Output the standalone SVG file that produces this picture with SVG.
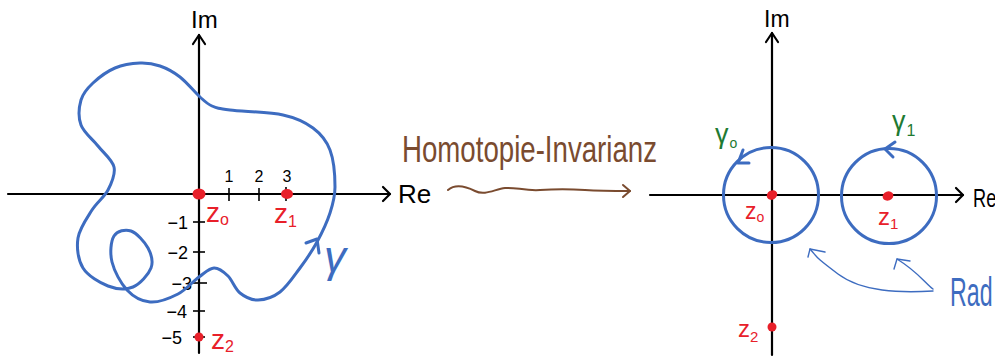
<svg xmlns="http://www.w3.org/2000/svg" width="995" height="358" viewBox="0 0 995 358">
<style>
.ax{stroke:#000;stroke-width:2.2;fill:none;stroke-linecap:round;stroke-linejoin:round}
.tk{stroke:#000;stroke-width:1.6;fill:none}
.bl{stroke:#3d6cc0;stroke-width:3;fill:none;stroke-linecap:round;stroke-linejoin:round}
.bt{stroke:#3d6cc0;stroke-width:1.4;fill:none;stroke-linecap:round;stroke-linejoin:round}
.br{stroke:#7a4b2f;stroke-width:2;fill:none;stroke-linecap:round;stroke-linejoin:round}
.pt{fill:#e8202a}
text{font-family:"Liberation Sans","DejaVu Sans",sans-serif}
.k{fill:#000}
.r{fill:#e8202a}
.g{fill:#1e7a32}
.b{fill:#3d6cc0}
.n{fill:#7a4b2f}
</style>
<rect width="995" height="358" fill="#fff"/>

<g id="left-plot">
  <g id="left-axes">
    <line class="ax" x1="199" y1="353" x2="199" y2="35"/>
    <path class="ax" d="M193,44 L199,35 L205,44"/>
    <line class="ax" x1="8" y1="194" x2="390" y2="194"/>
    <path class="ax" d="M383,187 L390,194 L383,201"/>
    <text class="k" x="191" y="28" font-size="24">Im</text>
    <text class="k" x="398" y="203" font-size="26">Re</text>
  </g>
  <g id="left-ticks">
    <line class="tk" x1="229" y1="188" x2="229" y2="201"/>
    <line class="tk" x1="259" y1="188" x2="259" y2="201"/>
    <line class="tk" x1="286" y1="187" x2="286" y2="201"/>
    <line class="tk" x1="193" y1="222" x2="205" y2="222"/>
    <line class="tk" x1="193" y1="252" x2="205" y2="252"/>
    <line class="tk" x1="192" y1="283" x2="207" y2="283"/>
    <line class="tk" x1="193" y1="311" x2="205" y2="311"/>
    <line class="tk" x1="193" y1="337" x2="205" y2="337"/>
    <text class="k" x="229" y="182" font-size="16" text-anchor="middle">1</text>
    <text class="k" x="259" y="182" font-size="16" text-anchor="middle">2</text>
    <text class="k" x="287" y="182" font-size="16" text-anchor="middle">3</text>
    <text class="k" x="188" y="229" font-size="18" text-anchor="end">−1</text>
    <text class="k" x="188" y="259" font-size="18" text-anchor="end">−2</text>
    <text class="k" x="192" y="290" font-size="18" text-anchor="end">−3</text>
    <text class="k" x="187" y="318" font-size="18" text-anchor="end">−4</text>
    <text class="k" x="182" y="344" font-size="18" text-anchor="end">−5</text>
  </g>
  <g id="gamma-curve">
    <path class="bl" d="M140,63 C132.5,63.3 122.8,64.7 115,68 S98.7,77.7 93,83 S83,93 81,100 S78.2,117.3 81,125 S92.5,139 98,146 S112.3,159.7 114,167 S111.7,182.8 108,190 S97,202 92,210 S79.5,228.3 78,238 S78,260 83,268 S99.7,282.8 108,286 S125.8,290 133,287 S148.5,274.5 151,268 S151.3,254.2 148,248 S136.7,233 131,231 S117.2,230.8 114,236 S109.8,253 112,262 S120.7,283.3 127,290 S141.5,301.3 150,302 S169.8,298.2 178,294 S193,281.3 199,277 S209.2,268.2 214,268 S223.7,271.8 228,276 S235,289 240,293 S251.3,300.2 258,300 S273,297.3 280,292 S293.8,276.3 300,268 S312,251.2 317,242 S327,222.2 330,213 S335,197.5 335,187 S333.7,159.8 330,150 S320.8,133.8 313,128 S296.8,118 283,115 S241.8,111.5 230,110 S217,108.2 212,106 S205.3,101.8 200,97 S186.7,82.2 180,77 S166.7,68.3 160,66 S147.5,62.7 140,63 Z"/>
    <path class="bl" d="M306,243 L317,239 L319,253"/>
    <text class="b" x="324" y="272" font-size="44" font-style="italic">γ</text>
  </g>
  <g id="left-points">
    <ellipse class="pt" cx="199" cy="194" rx="6.5" ry="5.5"/>
    <ellipse class="pt" cx="287" cy="194" rx="6" ry="5"/>
    <circle class="pt" cx="199" cy="337" r="4.5"/>
    <text class="r" x="206" y="222" font-size="28">z<tspan font-size="16" dy="3">o</tspan></text>
    <text class="r" x="274" y="223" font-size="28">z<tspan font-size="16" dy="4">1</tspan></text>
    <text class="r" x="211" y="349" font-size="28">z<tspan font-size="16" dy="3">2</tspan></text>
  </g>
</g>

<g id="homotopy">
  <text class="n" x="402" y="162" font-size="37" textLength="255" lengthAdjust="spacingAndGlyphs">Homotopie-Invarianz</text>
  <path class="br" d="M448,190 C455,184 465,186 475,191 S495,189 505,188 S525,191 540,190 S570,189 585,190 S615,191 630,191"/>
  <path class="br" d="M623,185 L630,191 L623,197"/>
</g>

<g id="right-plot">
  <g id="right-axes">
    <line class="ax" x1="772" y1="355" x2="772" y2="33"/>
    <path class="ax" d="M766,42 L772,33 L778,42"/>
    <line class="ax" x1="650" y1="195" x2="963" y2="195"/>
    <path class="ax" d="M956,188 L963,195 L956,202"/>
    <text class="k" x="764" y="27" font-size="23">Im</text>
    <text class="k" font-size="26" transform="translate(973,207) scale(0.7,1)">Re</text>
  </g>
  <g id="gamma0">
    <circle class="bl" cx="771" cy="195" r="47.5" stroke-width="3.5"/>
    <path class="bl" d="M743,150 L738,163 L749,163" stroke-width="2.2"/>
    <text class="g" x="715" y="143" font-size="27">γ<tspan font-size="14" dx="1" dy="5">o</tspan></text>
  </g>
  <g id="gamma1">
    <circle class="bl" cx="889" cy="196" r="47.5" stroke-width="3.5"/>
    <path class="bl" d="M895,142 L885,149 L893,157" stroke-width="2.2"/>
    <text class="g" x="892" y="130" font-size="27">γ<tspan font-size="16" dx="1" dy="6">1</tspan></text>
  </g>
  <g id="right-points">
    <ellipse class="pt" cx="772" cy="195" rx="5.5" ry="4.5" transform="rotate(-30 772 195)"/>
    <ellipse class="pt" cx="888" cy="196" rx="5.5" ry="4.5" transform="rotate(-20 888 196)"/>
    <circle class="pt" cx="772" cy="327" r="4.5"/>
    <text class="r" x="745" y="219" font-size="23">z<tspan font-size="14" dy="3">o</tspan></text>
    <text class="r" x="878" y="225" font-size="24">z<tspan font-size="15" dy="4">1</tspan></text>
    <text class="r" x="738" y="337" font-size="24">z<tspan font-size="15" dy="5">2</tspan></text>
  </g>
  <g id="connectors">
    <path class="bt" d="M933,291 C900,293 862,292 838,274 S818,258 810,249"/>
    <path class="bt" d="M825,252 L810,249 L808,257"/>
    <path class="bt" d="M933,289 C925,283 918,272 897,259"/>
    <path class="bt" d="M910,261 L897,259 L894,269"/>
  </g>
  <g id="rad-label">
    <text class="b" font-size="40" transform="translate(950,306) scale(0.58,1)">Rad</text>
  </g>
</g>
</svg>
